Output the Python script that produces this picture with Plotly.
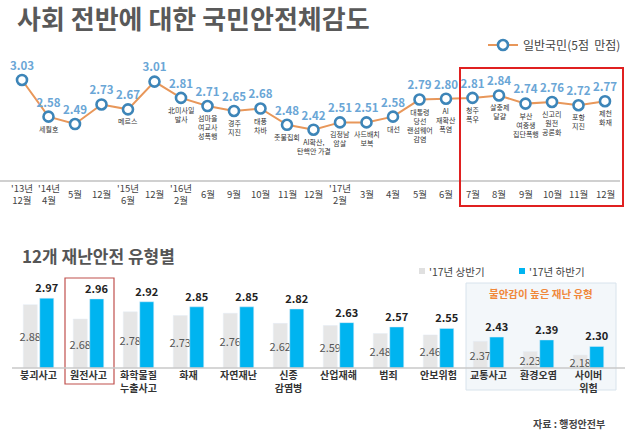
import plotly.graph_objects as go

W, H = 637, 448
FONT = "Noto Sans CJK KR"

# ---------- data: top line chart ----------
periods = ["'13년<br>12월", "'14년<br>4월", "5월", "12월", "'15년<br>6월", "12월",
           "'16년<br>2월", "6월", "9월", "10월", "11월", "12월", "'17년<br>2월",
           "3월", "4월", "5월", "6월", "7월", "8월", "9월", "10월", "11월", "12월"]
safety_scores = [3.03, 2.58, 2.49, 2.73, 2.67, 3.01, 2.81, 2.71, 2.65, 2.68, 2.48,
                 2.42, 2.51, 2.51, 2.58, 2.79, 2.80, 2.81, 2.84, 2.74, 2.76, 2.72, 2.77]
events = ["", "세월호", "", "", "메르스", "", "北미사일<br>발사", "섬마을<br>여교사<br>성폭행",
          "경주<br>지진", "태풍<br>차바", "촛불집회", "AI확산,<br>탄핵안 가결", "김정남<br>암살",
          "사드배치<br>보복", "대선", "대통령<br>당선<br>랜섬웨어<br>감염", "AI<br>재확산<br>폭염",
          "청주<br>폭우", "살충제<br>달걀", "부산<br>여중생<br>집단폭행", "신고리<br>원전<br>공론화",
          "포항<br>지진", "제천<br>화재"]
line_series_name = "일반국민(5점  만점)"

# ---------- data: bottom bar chart ----------
disaster_types = ["붕괴사고", "원전사고", "화학물질<br>누출사고", "화재", "자연재난", "신종<br>감염병",
                  "산업재해", "범죄", "안보위험", "교통사고", "환경오염", "사이버<br>위험"]
first_half = [2.88, 2.68, 2.78, 2.73, 2.76, 2.62, 2.59, 2.48, 2.46, 2.37, 2.23, 2.18]
second_half = [2.97, 2.96, 2.92, 2.85, 2.85, 2.82, 2.63, 2.57, 2.55, 2.43, 2.39, 2.30]
bar_series_names = ["'17년 상반기", "'17년 하반기"]
BAR_BASE = 2.0


def px_x(p):
    return p / W


def px_y(p):
    return 1 - p / H


fig = go.Figure()

xs = list(range(len(safety_scores)))
fig.add_trace(go.Scatter(
    x=xs, y=safety_scores, mode="lines+markers+text",
    name=line_series_name,
    line=dict(color="#e8975a", width=2),
    marker=dict(symbol="circle", size=10, color="white",
                line=dict(color="#3d85b8", width=2.6)),
    text=[f"{v:.2f}" for v in safety_scores], textposition="top center",
    textfont=dict(family=FONT, size=11.5, color="#6aa6d6", weight="bold"),
    xaxis="x", yaxis="y", cliponaxis=False, showlegend=True,
))

bx = list(range(len(disaster_types)))
fig.add_trace(go.Bar(
    x=bx, y=[v - BAR_BASE for v in first_half], base=BAR_BASE, name=bar_series_names[0],
    marker=dict(color="#e6e6e6"), xaxis="x2", yaxis="y2", showlegend=False,
    text=[f"{v:.2f}" for v in first_half], textposition="inside",
    insidetextanchor="middle", constraintext="none", textangle=0,
    textfont=dict(family=FONT, size=11, color="#555555"),
))
fig.add_trace(go.Bar(
    x=bx, y=[v - BAR_BASE for v in second_half], base=BAR_BASE, name=bar_series_names[1],
    marker=dict(color="#00b4f0"), xaxis="x2", yaxis="y2", showlegend=False,
    text=[f"{v:.2f}" for v in second_half], textposition="outside",
    constraintext="none", textangle=0, cliponaxis=False,
    textfont=dict(family=FONT, size=11, color="#222222", weight="bold"),
))

shapes = []
annotations = []

# titles
annotations.append(dict(text="<b>사회 전반에 대한 국민안전체감도</b>", xref="paper", yref="paper",
                        x=px_x(15), y=px_y(18), xanchor="left", yanchor="middle", showarrow=False,
                        font=dict(family=FONT, size=26, color="#595959")))
annotations.append(dict(text="<b>12개 재난안전 유형별</b>", xref="paper", yref="paper",
                        x=px_x(20), y=px_y(255), xanchor="left", yanchor="middle", showarrow=False,
                        font=dict(family=FONT, size=17, color="#555555")))
annotations.append(dict(text="<b>자료 : 행정안전부</b>", xref="paper", yref="paper",
                        x=px_x(607), y=px_y(423), xanchor="right", yanchor="middle", showarrow=False,
                        font=dict(family=FONT, size=10, color="#444444")))

# top x labels (vertically centred)
for i, lab in enumerate(periods):
    annotations.append(dict(text=lab, xref="x", yref="paper", x=i, y=px_y(194),
                            xanchor="center", yanchor="middle", showarrow=False,
                            font=dict(family=FONT, size=9.5, color="#444444")))

# event labels below points
for i, ev in enumerate(events):
    if ev:
        annotations.append(dict(text=ev, xref="x", yref="y", x=i, y=safety_scores[i],
                                xanchor="center", yanchor="top", yshift=-5, showarrow=False,
                                font=dict(family=FONT, size=7, color="#333333")))

# top baseline & red highlight box
shapes.append(dict(type="line", xref="paper", yref="paper", x0=0, x1=px_x(620),
                   y0=px_y(181), y1=px_y(181), line=dict(color="#d0d0d0", width=2)))
shapes.append(dict(type="rect", xref="paper", yref="paper", x0=px_x(460), x1=px_x(623),
                   y0=px_y(68), y1=px_y(206), line=dict(color="#e02020", width=2)))

# bottom legend (small squares + text)
legend_cols = ["#e0e0e0", "#00b4f0"]
for k, (nm, lx) in enumerate(zip(bar_series_names, [419, 519])):
    shapes.append(dict(type="rect", xref="paper", yref="paper", x0=px_x(lx), x1=px_x(lx + 6),
                       y0=px_y(274), y1=px_y(268), fillcolor=legend_cols[k], line=dict(width=0)))
    annotations.append(dict(text=nm, xref="paper", yref="paper", x=px_x(lx + 8), y=px_y(271),
                            xanchor="left", yanchor="middle", showarrow=False,
                            font=dict(family=FONT, size=10.5, color="#444444")))

# bottom highlight box
shapes.append(dict(type="rect", xref="paper", yref="paper", x0=px_x(466), x1=px_x(616),
                   y0=px_y(283), y1=px_y(390), fillcolor="#f3f7fa",
                   line=dict(color="#d8e3ec", width=1), layer="below"))
annotations.append(dict(text="<b>불안감이 높은 재난 유형</b>", xref="paper", yref="paper",
                        x=px_x(541), y=px_y(293), xanchor="center", yanchor="middle", showarrow=False,
                        font=dict(family=FONT, size=10.5, color="#f0883a")))
# red box around 원전사고
shapes.append(dict(type="rect", xref="paper", yref="paper", x0=px_x(65), x1=px_x(114),
                   y0=px_y(278), y1=px_y(384), line=dict(color="#c0504d", width=1.2)))
# bottom baseline
shapes.append(dict(type="line", xref="paper", yref="paper", x0=px_x(12), x1=px_x(625),
                   y0=px_y(368), y1=px_y(368), line=dict(color="#c8c8c8", width=1.5)))

fig.update_layout(
    width=W, height=H, margin=dict(l=0, r=0, t=0, b=0, autoexpand=False),
    paper_bgcolor="white", plot_bgcolor="rgba(0,0,0,0)",
    font=dict(family=FONT),
    barmode="group", bargap=0.34, bargroupgap=0.15,
    showlegend=True,
    xaxis=dict(domain=[px_x(8.75), px_x(618.25)], range=[-0.5, 22.5], anchor="y",
               showgrid=False, zeroline=False, showticklabels=False, showline=False),
    yaxis=dict(domain=[px_y(181), px_y(60)], range=[1.791, 3.275], anchor="x",
               showgrid=False, zeroline=False, showticklabels=False, showline=False),
    xaxis2=dict(domain=[px_x(13.5), px_x(613.5)], range=[-0.5, 11.5],
                anchor="free", position=px_y(367.5),
                tickvals=bx, ticktext=[f"<b>{t}</b>" for t in disaster_types],
                tickfont=dict(family=FONT, size=10, color="#333333"),
                ticks="", showgrid=False, zeroline=False, showline=False,
                ticklabelstandoff=0),
    yaxis2=dict(domain=[px_y(368), px_y(278)], range=[BAR_BASE, 3.25], anchor="x2",
                showgrid=False, zeroline=False, showticklabels=False, showline=False),
    legend=dict(x=px_x(626), y=px_y(45), xanchor="right", yanchor="middle",
                orientation="h", bgcolor="rgba(0,0,0,0)",
                font=dict(family=FONT, size=12, color="#444444"),
                itemwidth=30),
    shapes=shapes, annotations=annotations,
)

fig.write_html("out.html")
